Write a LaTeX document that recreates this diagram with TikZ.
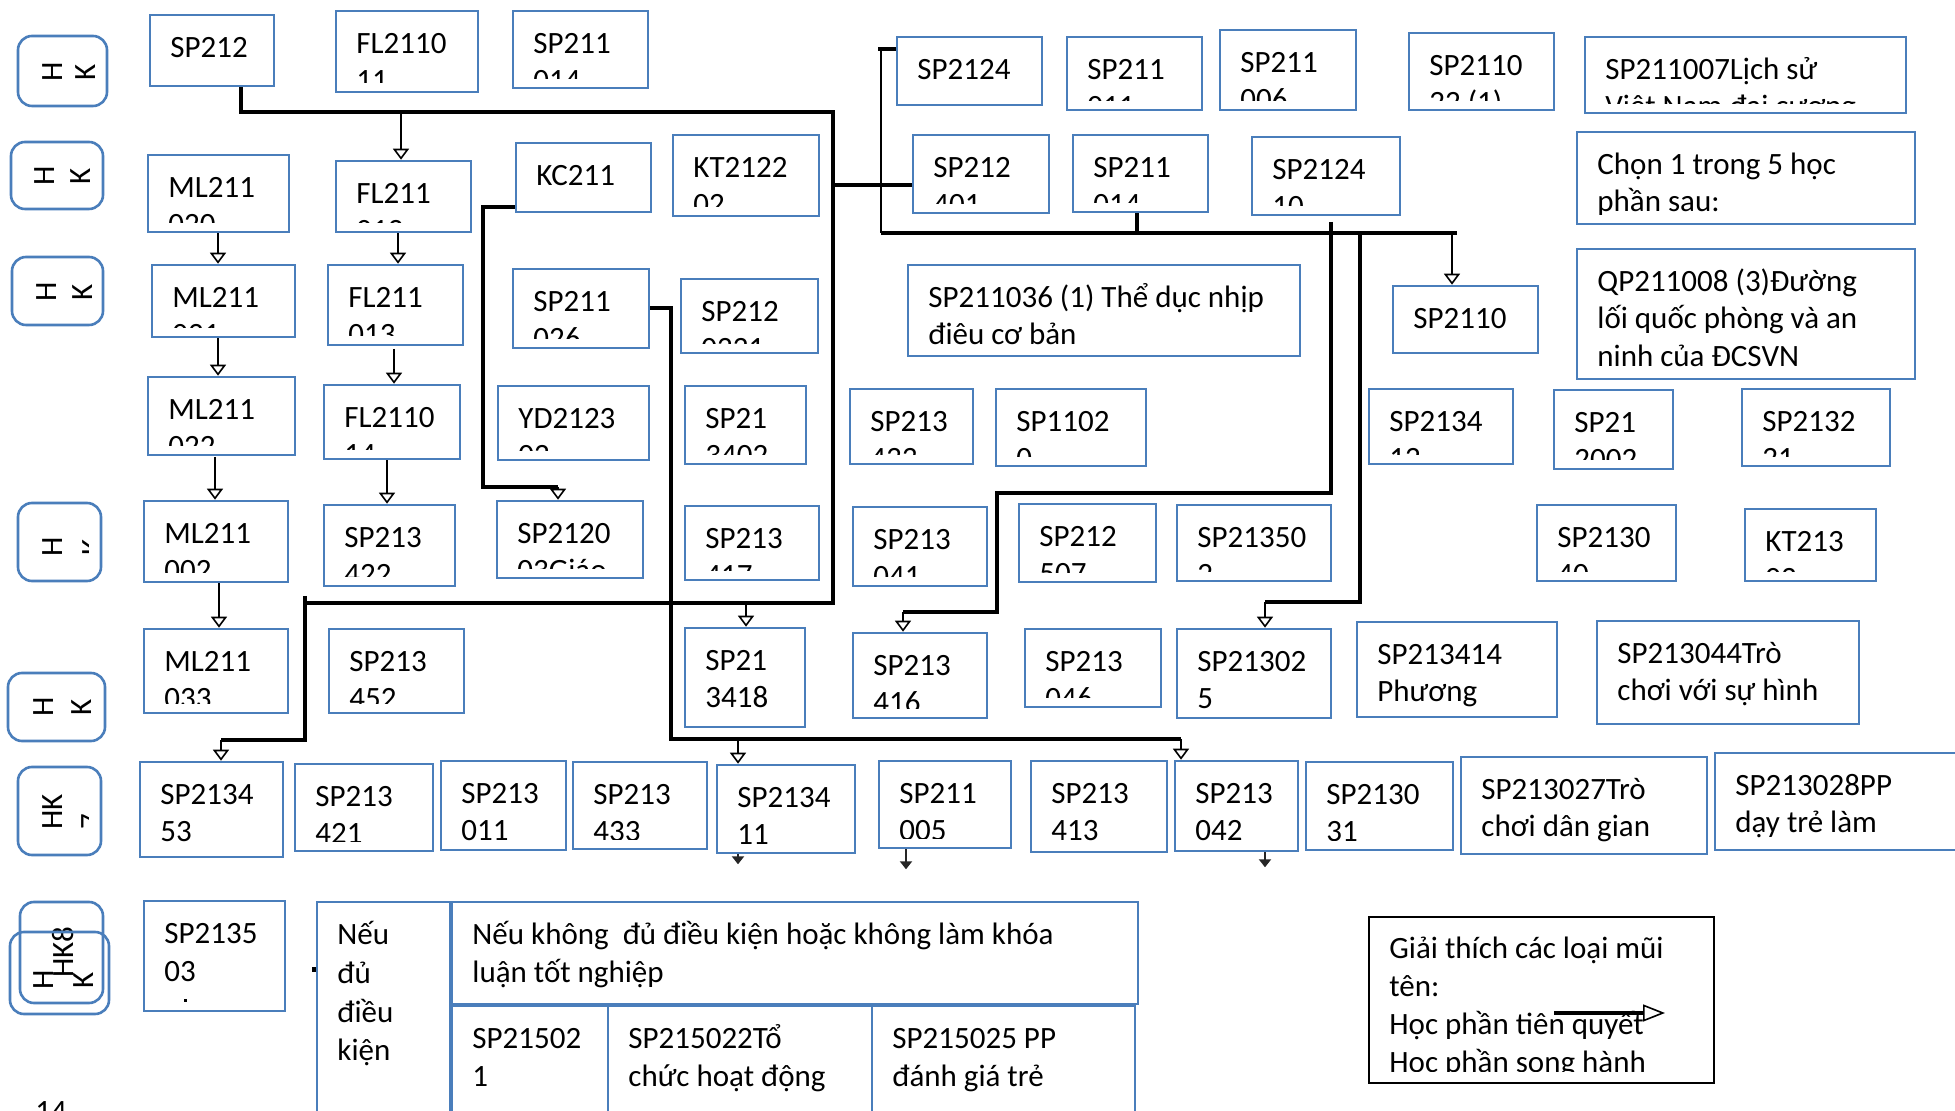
\documentclass[tikz,border=0pt]{standalone}
\usepackage{fontspec}
\setmainfont{Carlito}
\usetikzlibrary{arrows.meta,fit}
\definecolor{boxblue}{RGB}{74,126,187}
\tikzset{
 cb/.style={draw=boxblue, line width=1.3pt, inner sep=0pt, rectangle},
 lbl/.style={draw=boxblue, line width=1.3pt, inner sep=0pt, rectangle, rounded corners=7pt},
 txt/.style={anchor=base west, inner sep=0pt, font=\fontsize{15.5}{18.75}\selectfont},
 rot/.style={rotate=90, inner sep=0pt, font=\fontsize{15.5}{18.75}\selectfont},
 bus/.style={line width=1.6pt},
 thinl/.style={line width=1.1pt},
 arr/.style={line width=1.2pt, -{Triangle[fill=white, length=5.5pt, width=8pt, line width=0.8pt]}},
 con/.style={line width=1.2pt, draw=black!85, -{Triangle[length=4pt, width=6pt]}},
 legarr/.style={line width=2pt, -{Triangle[fill=white, length=11pt, width=8.5pt, line width=0.8pt]}},
}
\newcommand{\cbx}[7][]{%
  \coordinate (#2-a) at (#3,#4);
  \coordinate (#2-b) at (#5,#6);
  \node[cb,fit=(#2-a)(#2-b)] (#2) {};
  \begin{scope}
    \clip (#3,#4) rectangle (#5,#6-9);
    \node[txt,#1] (#2-t) at (#3+20,#4+42.5) {\begin{tabular}[t]{@{}l@{}}#7\end{tabular}};
  \end{scope}}
\newcommand{\lbx}[5]{%
  \coordinate (#1-a) at (#2,#3);
  \coordinate (#1-b) at (#4,#5);
  \node[lbl,fit=(#1-a)(#1-b)] (#1) {};}
\begin{document}
\begin{tikzpicture}[x=0.5pt,y=-0.5pt]
\useasboundingbox (0,0) rectangle (1955,1111);
\fill[white] (0,0) rectangle (1955,1111);

% ---------- semester labels ----------
\lbx{L1}{18}{36}{107}{106}
\node[rot] (L1h) at (53,72) {H};
\node[rot] (L1k) at (86,72) {K};
\lbx{L2}{11}{142}{103}{209}
\node[rot] (L2h) at (45,176) {H};
\node[rot] (L2k) at (81,176) {K};
\lbx{L3}{12}{257}{103}{325}
\node[rot] (L3h) at (47,292) {H};
\node[rot] (L3k) at (83,292) {K};
\lbx{L4}{18}{503}{101}{581}
\node[rot] (L4h) at (53,547) {H};
\begin{scope}\clip (18,503) rectangle (88,581);
\node[rot] (L4k) at (93,547) {K};
\end{scope}
\lbx{L5}{8}{673}{105}{741}
\node[rot] (L5h) at (44,707) {H};
\node[rot] (L5k) at (82,707) {K};
\lbx{L6}{18}{767}{101}{855}
\node[rot] (L6h) at (53,812) {HK};
\begin{scope}\clip (18,767) rectangle (88,855);
\node[rot] (L6k) at (92,822) {7};
\end{scope}
\lbx{L7}{20}{902}{103}{1003}
\node[rot] (L7t) at (63,952) {HK8};
\lbx{L8}{10}{932}{109}{1014}
\node[rot] (L8h) at (44,980) {H};
\node[rot] (L8k) at (84,980) {K};

% ---------- row 1 ----------
\cbx{b1}{150}{15}{274}{86}{SP212}
\cbx{b2}{336}{11}{478}{92}{FL2110\\11}
\cbx{b3}{513}{11}{648}{88}{SP211\\014}
\cbx{b4}{897}{37}{1042}{105}{SP2124}
\cbx{b5}{1067}{37}{1202}{110}{SP211\\011}
\cbx{b6}{1220}{30}{1356}{110}{SP211\\006}
\cbx{b7}{1409}{33}{1554}{110}{SP2110\\22 (1)}
\cbx{b8}{1585}{37}{1906}{113}{SP211007Lịch sử\\Việt Nam đại cương}

% ---------- row 2 ----------
\cbx{c1}{148}{155}{289}{232}{ML211\\020}
\cbx{c2}{336}{161}{471}{232}{FL211\\012}
\cbx{c3}{516}{143}{651}{212}{KC211}
\cbx{c4}{673}{135}{819}{216}{KT2122\\02}
\cbx{c5}{913}{135}{1049}{213}{SP212\\401}
\cbx{c6}{1073}{135}{1208}{212}{SP211\\014}
\cbx{c7}{1252}{137}{1400}{215}{SP2124\\10}
\cbx{c8}{1577}{132}{1915}{224}{Chọn 1 trong 5 học\\phần sau:}

% ---------- row 3 ----------
\cbx{d1}{152}{265}{295}{337}{ML211\\021}
\cbx{d2}{328}{265}{463}{345}{FL211\\013}
\cbx{d3}{513}{269}{649}{348}{SP211\\026}
\cbx{d4}{681}{279}{818}{353}{SP212\\0221}
\cbx{d5}{908}{265}{1300}{356}{SP211036 (1) Thể dục nhịp\\điêu cơ bản}
\cbx{d6}{1393}{286}{1538}{353}{SP2110}
\cbx{d7}{1577}{249}{1915}{379}{QP211008 (3)Đường\\lối quốc phòng và an\\ninh của ĐCSVN}

% ---------- row 4 ----------
\cbx{e1}{148}{377}{295}{455}{ML211\\022}
\cbx{e2}{324}{385}{460}{459}{FL2110\\14}
\cbx{e3}{498}{386}{649}{460}{YD2123\\02}
\cbx{e4}{685}{386}{806}{464}{SP21\\3402}
\cbx{e5}{850}{389}{973}{464}{SP213\\433}
\cbx{e6}{996}{389}{1146}{466}{SP1102\\0}
\cbx{e7}{1369}{389}{1513}{464}{SP2134\\12}
\cbx{e8}{1554}{390}{1673}{469}{SP21\\2002}
\cbx{e9}{1742}{389}{1890}{466}{SP2132\\21}

% ---------- row 5 ----------
\cbx{f1}{144}{501}{288}{582}{ML211\\002}
\cbx{f2}{324}{505}{455}{586}{SP213\\422}
\cbx{f3}{497}{501}{643}{578}{SP2120\\03Giáo}
\cbx{f4}{685}{506}{819}{580}{SP213\\417}
\cbx{f5}{853}{507}{987}{586}{SP213\\041}
\cbx{f6}{1019}{504}{1156}{582}{SP212\\507}
\cbx{f7}{1177}{505}{1331}{581}{SP21350\\2}
\cbx{f8}{1537}{505}{1676}{581}{SP2130\\40}
\cbx{f9}{1745}{509}{1876}{581}{KT213\\02}

% ---------- row 6 ----------
\cbx{g1}{144}{629}{288}{713}{ML211\\033}
\cbx{g2}{329}{629}{464}{713}{SP213\\452}
\cbx{g3}{685}{628}{805}{727}{SP21\\3418}
\cbx{g4}{853}{633}{987}{718}{SP213\\416}
\cbx{g5}{1025}{629}{1161}{707}{SP213\\046}
\cbx{g6}{1177}{629}{1331}{718}{SP21302\\5}
\cbx{g7}{1357}{622}{1557}{717}{SP213414\\Phương}
\cbx{g8}{1597}{621}{1859}{724}{SP213044Trò\\chơi với sự hình}

% ---------- row 7 ----------
\cbx{h1}{140}{762}{283}{857}{SP2134\\53}
\cbx{h2}{295}{764}{433}{851}{SP213\\421}
\cbx{h3}{441}{761}{566}{850}{SP213\\011}
\cbx{h4}{573}{762}{707}{849}{SP213\\433}
\cbx{h5}{717}{765}{855}{853}{SP2134\\11}
\cbx{h6}{879}{761}{1011}{848}{SP211\\005}
\cbx{h7}{1031}{761}{1167}{852}{SP213\\413}
\cbx{h8}{1175}{761}{1298}{851}{SP213\\042}
\cbx{h9}{1306}{762}{1453}{850}{SP2130\\31}
\cbx{h10}{1461}{757}{1707}{854}{SP213027Trò\\chơi dân gian}
\cbx{h11}{1715}{753}{1975}{850}{SP213028PP\\dạy trẻ làm}

% ---------- row 8 ----------
\cbx{i1}{144}{901}{285}{1011}{SP2135\\03}
\fill (184,999) rectangle (187,1002);
\fill (312,967) rectangle (316,972);
\cbx[font=\fontsize{15.5}{19.4}\selectfont]{i2}{317}{902}{450}{1130}{Nếu\\đủ\\điều\\kiện}
\cbx{i3}{452}{902}{1138}{1004}{Nếu không\ \ đủ điều kiện hoặc không làm khóa\\luận tốt nghiệp}
\cbx{i4}{452}{1006}{608}{1130}{SP21502\\1}
\cbx{i5}{608}{1006}{872}{1130}{SP215022Tổ\\chức hoạt động}
\cbx{i6}{872}{1006}{1135}{1130}{SP215025 PP\\đánh giá trẻ}
\node[txt] (pg) at (35,1121) {14};

% ---------- legend ----------
\coordinate (leg-a) at (1369,917);
\coordinate (leg-b) at (1714,1083);
\node[cb, draw=black, line width=0.7pt, fit=(leg-a)(leg-b)] (leg) {};
\begin{scope}
\clip (1369,917) rectangle (1714,1071);
\node[txt, font=\fontsize{15.5}{19.1}\selectfont] (leg-t) at (1389,958)
  {\begin{tabular}[t]{@{}l@{}}Giải thích các loại mũi\\tên:\\Học phần tiên quyết\\Học phần song hành\end{tabular}};
\end{scope}
\coordinate (lg1) at (1554,1013);
\coordinate (lg2) at (1665,1013);
\draw[legarr] (lg1) -- (lg2);

% ---------- connectors ----------
\coordinate (jA) at (833,112);
\coordinate (jB) at (401,112);
\coordinate (jC) at (305,603);
\coordinate (jD) at (746,603);
\coordinate (jE) at (833,185);
\draw[bus] (241,0 |- b1.south) |- (jA) -- (833,603) -- (jC);
\draw[bus] (305,596) -- (305,740) -- (221,740);
\draw[arr] (221,740) -- (221,0 |- h1.north);
\draw[arr] (jB) -- (401,0 |- c2.north);
\draw[arr] (jD) -- (746,0 |- g3.north);
\draw[bus] (jE) -- (c5.west |- jE);

\draw[arr] (218,0 |- c1.south) -- (218,0 |- d1.north);
\draw[arr] (398,0 |- c2.south) -- (398,0 |- d2.north);
\draw[arr] (218,0 |- d1.south) -- (218,0 |- e1.north);
\draw[arr] (394,349) -- (394,0 |- e2.north);
\draw[arr] (215,457) -- (215,0 |- f1.north);
\draw[arr] (387,0 |- e2.south) -- (387,0 |- f2.north);
\draw[arr] (219,0 |- f1.south) -- (219,0 |- g1.north);

\draw[bus] (c3.west |- 0,207) -| (483,487) -- (558,487);
\draw[arr] (558,487) -- (558,0 |- f3.north);

\draw[bus] (d3.east |- 0,308) -| (671,739) -- (1181,739);
\draw[arr] (738,739) -- (738,0 |- h5.north);
\draw[arr] (1181,739) -- (1181,0 |- h8.north);

\draw[bus] (b4.west |- 0,49) -- (878,49);
\draw[thinl] (881,49) -- (881,233);
\draw[bus] (881,233) -- (1457,233);
\draw[arr] (1452,233) -- (1452,0 |- d6.north);
\draw[bus] (1137,0 |- c6.south) -- (1137,233);

\draw[bus] (1331,222) |- (997,493) |- (903,612);
\draw[arr] (903,612) -- (903,0 |- g4.north);
\draw[bus] (1360,233) |- (1265,602);
\draw[arr] (1265,602) -- (1265,0 |- g6.north);

\draw[con] (738,0 |- h5.south) -- ++(0,10);
\draw[con] (906,0 |- h6.south) -- ++(0,20);
\draw[con] (1265,0 |- h8.south) -- ++(0,15);
\end{tikzpicture}
\end{document}
